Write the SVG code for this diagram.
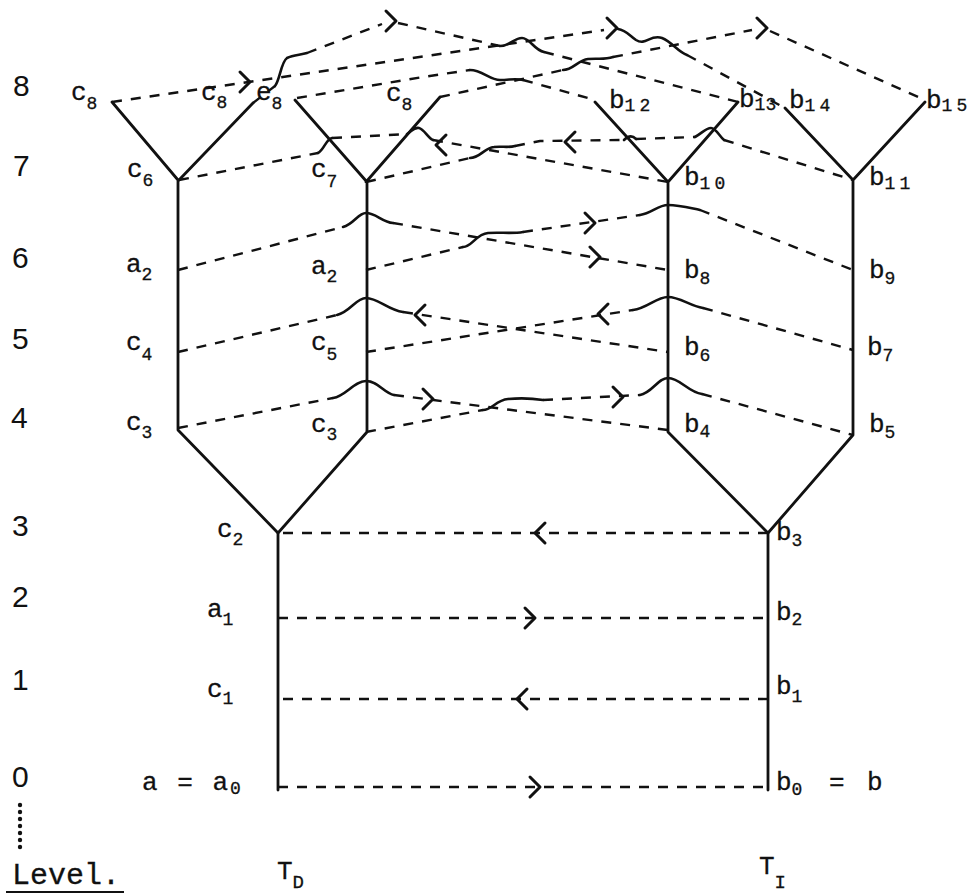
<svg xmlns="http://www.w3.org/2000/svg" width="977" height="896" viewBox="0 0 977 896">
<style>
  .tree{fill:none;stroke:#111;stroke-width:2.8;stroke-linecap:round;stroke-linejoin:round}
  .dash{fill:none;stroke:#111;stroke-width:2.4;stroke-dasharray:10 9}
  .hop{fill:none;stroke:#111;stroke-width:2.6;stroke-linecap:round}
  .arr{fill:none;stroke:#111;stroke-width:3;stroke-linecap:round;stroke-linejoin:round}
  .lbl{font-family:"Liberation Mono","DejaVu Sans Mono",monospace;font-size:26px;fill:#111;stroke:#111;stroke-width:0.3}
  .sub{font-size:18px}
  .lvl{font-family:"Liberation Sans","DejaVu Sans",sans-serif;font-size:30px;fill:#111}
</style>
<defs>
  <path id="rt" class="arr" d="M-5,-10 L5,0 L-5,10"/>
  <path id="lt" class="arr" d="M5,-10 L-5,0 L5,10"/>
</defs>
<rect width="977" height="896" fill="#fff"/>

<!-- level scale -->
<g id="levels" class="lvl">
  <text x="13" y="96">8</text>
  <text x="13" y="176">7</text>
  <text x="12" y="268">6</text>
  <text x="12" y="349">5</text>
  <text x="11" y="428">4</text>
  <text x="12" y="536">3</text>
  <text x="12" y="607">2</text>
  <text x="12" y="690">1</text>
  <text x="12" y="787">0</text>
</g>
<g id="level-caption">
  <g fill="#111">
    <circle cx="20" cy="805" r="2.2"/><circle cx="20" cy="812" r="2.2"/><circle cx="20" cy="819" r="2.2"/>
    <circle cx="20" cy="826" r="2.2"/><circle cx="20" cy="833" r="2.2"/><circle cx="20" cy="840" r="2.2"/>
    <circle cx="20" cy="847" r="2.2"/>
  </g>
  <text class="lbl" x="12" y="884" style="font-size:30px">Level.</text>
  <line x1="6" y1="892" x2="124" y2="892" stroke="#111" stroke-width="2.2"/>
</g>

<!-- tree T_D -->
<g id="tree-TD" class="tree">
  <path d="M278,790 V533 L178,430 V180 L112,102 M179,180 L253,103"/>
  <path d="M278,533 L367,432 V182 L295,100 M366,182 L440,97"/>
</g>
<!-- tree T_I -->
<g id="tree-TI" class="tree">
  <path d="M768,790 V533 L668,432 V182 L595,102 M668,182 L738,102"/>
  <path d="M768,533 L853,435 V180 L785,108 M853,180 L925,102"/>
</g>

<!-- node labels, T_D side -->
<g id="n-c8a"><text class="lbl" x="71" y="100">c<tspan class="sub" dy="9">8</tspan></text></g>
<g id="n-c8b"><text class="lbl" x="201" y="100">c<tspan class="sub" dy="8">8</tspan></text></g>
<g id="n-e8"><text class="lbl" x="256" y="100">e<tspan class="sub" dy="9">8</tspan></text></g>
<g id="n-c8c"><text class="lbl" x="386" y="101">c<tspan class="sub" dy="9">8</tspan></text></g>
<g id="n-c6"><text class="lbl" x="127" y="177">c<tspan class="sub" dy="9">6</tspan></text></g>
<g id="n-c7"><text class="lbl" x="311" y="177">c<tspan class="sub" dy="10">7</tspan></text></g>
<g id="n-a2a"><text class="lbl" x="126" y="272">a<tspan class="sub" dy="8">2</tspan></text></g>
<g id="n-a2b"><text class="lbl" x="311" y="274">a<tspan class="sub" dy="8">2</tspan></text></g>
<g id="n-c4"><text class="lbl" x="126" y="350">c<tspan class="sub" dy="10">4</tspan></text></g>
<g id="n-c5"><text class="lbl" x="311" y="350">c<tspan class="sub" dy="10">5</tspan></text></g>
<g id="n-c3a"><text class="lbl" x="126" y="430">c<tspan class="sub" dy="8">3</tspan></text></g>
<g id="n-c3b"><text class="lbl" x="311" y="432">c<tspan class="sub" dy="8">3</tspan></text></g>
<g id="n-c2"><text class="lbl" x="217" y="537">c<tspan class="sub" dy="8">2</tspan></text></g>
<g id="n-a1"><text class="lbl" x="207" y="617">a<tspan class="sub" dy="8">1</tspan></text></g>
<g id="n-c1"><text class="lbl" x="207" y="697">c<tspan class="sub" dy="7">1</tspan></text></g>
<g id="n-a0"><text class="lbl" x="142" y="790" letter-spacing="2">a = a<tspan class="sub" dy="4" letter-spacing="0">0</tspan></text></g>
<g id="n-TD"><text class="lbl" x="277" y="879">T<tspan style="font-size:19px" dy="9">D</tspan></text></g>

<!-- node labels, T_I side -->
<g id="n-b12"><text class="lbl" x="609" y="108">b<tspan class="sub" dy="3" letter-spacing="4">12</tspan></text></g>
<g id="n-b13"><text class="lbl" x="739" y="107">b<tspan class="sub" dy="3" letter-spacing="0">13</tspan></text></g>
<g id="n-b14"><text class="lbl" x="789" y="108">b<tspan class="sub" dy="3" letter-spacing="4">14</tspan></text></g>
<g id="n-b15"><text class="lbl" x="926" y="108">b<tspan class="sub" dy="3" letter-spacing="4">15</tspan></text></g>
<g id="n-b10"><text class="lbl" x="684" y="185">b<tspan class="sub" dy="4" letter-spacing="4">10</tspan></text></g>
<g id="n-b11"><text class="lbl" x="869" y="185">b<tspan class="sub" dy="4" letter-spacing="4">11</tspan></text></g>
<g id="n-b8"><text class="lbl" x="684" y="278">b<tspan class="sub" dy="6">8</tspan></text></g>
<g id="n-b9"><text class="lbl" x="869" y="278">b<tspan class="sub" dy="6">9</tspan></text></g>
<g id="n-b6"><text class="lbl" x="684" y="355">b<tspan class="sub" dy="6">6</tspan></text></g>
<g id="n-b7"><text class="lbl" x="867" y="355">b<tspan class="sub" dy="6">7</tspan></text></g>
<g id="n-b4"><text class="lbl" x="684" y="432">b<tspan class="sub" dy="5">4</tspan></text></g>
<g id="n-b5"><text class="lbl" x="869" y="432">b<tspan class="sub" dy="6">5</tspan></text></g>
<g id="n-b3"><text class="lbl" x="776" y="540">b<tspan class="sub" dy="6">3</tspan></text></g>
<g id="n-b2"><text class="lbl" x="776" y="620">b<tspan class="sub" dy="5">2</tspan></text></g>
<g id="n-b1"><text class="lbl" x="776" y="694">b<tspan class="sub" dy="8">1</tspan></text></g>
<g id="n-b0"><text class="lbl" x="776" y="790">b<tspan class="sub" dy="5">0</tspan><tspan dy="-5" x="829">=</tspan><tspan x="867">b</tspan></text></g>
<g id="n-TI"><text class="lbl" x="759" y="874">T<tspan style="font-size:19px" dy="14">I</tspan></text></g>

<!-- connectors -->
<g id="connectors">
  <!-- levels 0 to 3 -->
  <path class="dash" d="M278,787 H768"/><use href="#rt" x="535" y="787"/>
  <path class="dash" d="M768,699 H278"/><use href="#lt" x="522" y="699"/>
  <path class="dash" d="M278,618 H768"/><use href="#rt" x="530" y="618"/>
  <path class="dash" d="M768,533 H278"/><use href="#lt" x="540" y="533"/>

  <!-- level 4 -->
  <path class="dash" d="M178,428 L333,398 M394,395 L668,430"/>
  <path class="hop" d="M333,398 C346,396 354,381 366,381 C378,381 384,393 394,395"/>
  <use href="#rt" x="428" y="399"/>
  <path class="dash" d="M366,432 L483,410 M543,400 L640,395 M702,394 L853,435"/>
  <path class="hop" d="M483,410 C492,410 496,400 508,399 C520,398 530,398 543,400"/>
  <path class="hop" d="M640,395 C652,393 658,378 668,378 C680,378 688,392 702,394"/>
  <use href="#rt" x="618" y="397"/>

  <!-- level 5 -->
  <path class="dash" d="M178,352 L337,315 M403,312 L668,352"/>
  <path class="hop" d="M337,315 C350,312 356,298 366,298 C378,298 388,310 403,312"/>
  <use href="#lt" x="420" y="315"/>
  <path class="dash" d="M366,352 L633,310 M703,308 L853,350"/>
  <path class="hop" d="M633,310 C648,308 656,297 668,297 C680,297 690,306 703,308"/>
  <use href="#lt" x="603" y="314"/>

  <!-- level 6 -->
  <path class="dash" d="M178,270 L343,227 M393,223 L668,270"/>
  <path class="hop" d="M343,227 C354,224 358,213 366,213 C376,213 382,222 393,223"/>
  <use href="#rt" x="595" y="257"/>
  <path class="dash" d="M366,270 L463,247 M523,232 L640,215 M700,210 L853,270"/>
  <path class="hop" d="M463,247 C472,247 476,234 488,233 C500,232 512,234 523,232"/>
  <path class="hop" d="M640,215 C652,213 658,205 668,205 C680,205 690,208 700,210"/>
  <use href="#rt" x="590" y="223"/>

  <!-- level 7 -->
  <path class="dash" d="M179,180 L318,153 M332,138 L407,134 M433,140 L668,182"/>
  <path class="hop" d="M318,153 C324,150 326,139 332,138"/>
  <path class="hop" d="M407,134 C412,131 414,127 419,128 C424,129 428,138 433,140"/>
  <use href="#lt" x="441" y="145"/>
  <path class="dash" d="M366,182 L470,158 M515,146 L540,141 L624,140 M636,139 L695,137 M724,140 L853,180"/>
  <path class="hop" d="M470,158 C480,158 484,148 494,147 C502,146 508,148 515,146"/>
  <path class="hop" d="M624,140 C628,136 632,135 636,139"/>
  <path class="hop" d="M695,137 C702,133 706,128 711,128 C716,128 719,136 724,140"/>
  <use href="#lt" x="570" y="142"/>

  <!-- level 8 -->
  <path class="dash" d="M112,102 L604,30 M687,55 L785,108"/>
  <path class="hop" d="M618,29 C626,30 630,36 636,40 C646,46 650,34 662,38 C672,42 678,52 687,55"/>
  <use href="#rt" x="245" y="82"/>
  <use href="#rt" x="612" y="28"/>
  <path class="dash" d="M253,103 L275,86 M307,53 L382,24 M398,23 L500,46 M544,52 L738,102"/>
  <path class="hop" d="M275,86 C280,80 281,62 287,58 C293,55 300,55 307,53"/>
  <path class="hop" d="M500,46 C510,46 514,38 522,38 C530,38 534,50 544,52"/>
  <use href="#rt" x="391" y="21"/>
  <path class="dash" d="M297,98 L423,77 L470,70 M523,80 L595,100"/>
  <path class="hop" d="M470,70 C482,70 490,80 500,80 C510,80 515,78 523,80"/>
  <path class="dash" d="M440,97 L563,70 M613,57 L752,30 M770,31 L925,100"/>
  <path class="hop" d="M563,70 C573,70 578,60 588,59 C598,58 604,60 613,57"/>
  <use href="#rt" x="762" y="28"/>
</g>
</svg>
